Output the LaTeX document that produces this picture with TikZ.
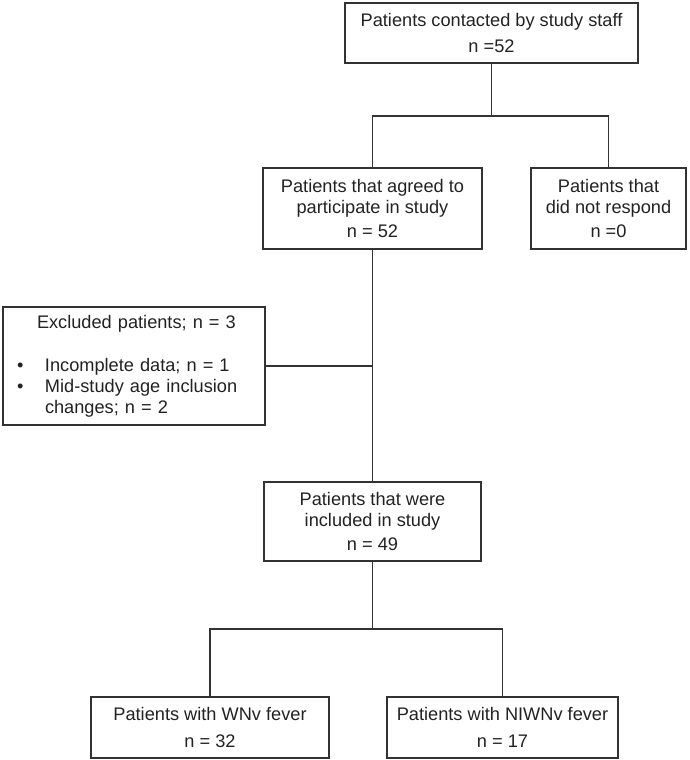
\documentclass[tikz,border=0pt]{standalone}
\usepackage{fontspec}
\setmainfont{Liberation Sans}
\usetikzlibrary{positioning}
\definecolor{linegray}{HTML}{333333}
\definecolor{textgray}{HTML}{222222}

\begin{document}
\begin{tikzpicture}[x=1pt,y=-1pt,
  box/.style={draw=linegray,line width=1.7pt,text=textgray,align=center,inner sep=0pt,font=\fontsize{18.2}{21}\selectfont},
  link/.style={draw=linegray,line width=1.7pt}]
\useasboundingbox (0,0) rectangle (690,760);

\node[box,minimum width=293pt,minimum height=60pt] (contact) at (491.5,33) {Patients contacted by study staff\\[5pt] n =52};
\node[box,minimum width=219pt,minimum height=81pt] (agreed) at (372.5,208.5) {Patients that agreed to\\participate in study\\[3pt] n = 52};
\node[box,minimum width=155pt,minimum height=81pt] (norespond) at (608.5,208.5) {Patients that\\did not respond\\[3pt] n =0};
\node[box,minimum width=262pt,minimum height=118pt,text width=262pt,align=left] (excluded) at (134,366) {\hspace*{34pt}Excluded patients; n = 3\\[22pt]
\hspace*{14pt}\makebox[28pt][l]{\textbullet}Incomplete data; n = 1\\
\hspace*{14pt}\makebox[28pt][l]{\textbullet}Mid-study age inclusion\\
\hspace*{42pt}changes; n = 2};
\node[box,minimum width=217pt,minimum height=79pt] (included) at (372.5,521.5) {Patients that were\\included in study\\[3pt] n = 49};
\node[box,minimum width=238pt,minimum height=61pt] (wnv) at (210,727.5) {Patients with WNv fever\\[6pt] n = 32};
\node[box,minimum width=231pt,minimum height=61pt] (niwnv) at (502.5,727.5) {Patients with NIWNv fever\\[6pt] n = 17};

\draw[link] (contact.south) -- ++(0,52) coordinate (topsplit);
\draw[link] (agreed.north) |- (topsplit) -| (norespond.north);
\draw[link] (agreed.south) -- (included.north);
\draw[link] (excluded.east) -- (excluded.east -| agreed.south);
\draw[link] (included.south) -- ++(0,67) coordinate (lowsplit);
\draw[link] (wnv.north) |- (lowsplit) -| (niwnv.north);
\end{tikzpicture}
\end{document}
